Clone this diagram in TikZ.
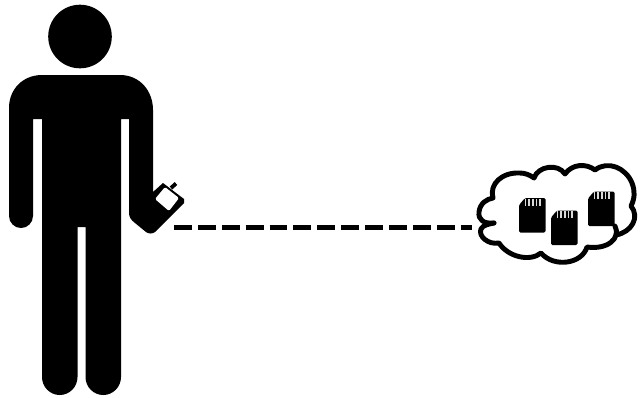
\documentclass[tikz,border=0pt]{standalone}
\usepackage{tikz}
\usetikzlibrary{arrows.meta, positioning, calc}

\begin{document}
\begin{tikzpicture}[
    x=0.02cm, y=-0.02cm,
    figure/.style={fill=black},
    link/.style={line width=2.85pt, dash pattern=on 10.2pt off 3.4pt},
    cloudline/.style={line width=2.8pt, line cap=round, line join=round},
    sdcard/.pic={
        \fill[black, rounded corners=0.8pt] (6,0) -- (26.5,0) -- (26.5,34.5) -- (0,34.5) -- (0,7) -- cycle;
        \foreach \i in {0,...,4}
            \fill[white!85!black] ({5.5+\i*3.7},0.5) rectangle ({7.3+\i*3.7},7.5);
    },
]
    \useasboundingbox (0,0) rectangle (640,397);

    % Person
    \fill[figure] (80,36.5) circle (31.8);
    \fill[figure] (42,75) -- (120,75)
        .. controls (140,75) and (153,91) .. (153,110)
        -- (153,192) -- (163,183) -- (184,199) -- (184,203)
        -- (155,232) .. controls (152,234) and (149,234) .. (146,232)
        -- (135,223) .. controls (131,220) and (129,217) .. (129,213)
        -- (129,119) -- (121,119) -- (121,377)
        arc[start angle=0, end angle=180, x radius=17.75, y radius=18]
        -- (85.5,227) -- (77.5,227) -- (77.5,377)
        arc[start angle=0, end angle=180, x radius=17.75, y radius=18]
        -- (42,119) -- (33,119) -- (33,216)
        arc[start angle=0, end angle=180, radius=12]
        -- (9,108) .. controls (9,89) and (23,75) .. (42,75) -- cycle;

    % Phone
    \fill[white, rounded corners=0.8pt] (165,187) -- (179,198) -- (169,211) -- (155,199) -- cycle;
    \draw[line width=2.2pt] (171,188) -- (176,183.5);

    % Link
    \coordinate (phone) at (174,227);
    \coordinate (cloud) at (472,227);
    \draw[link] (phone) -- (cloud);

    % Cloud
    \draw[cloudline] (494,223)
        .. controls (484,224) and (478,220) .. (479,212)
        .. controls (480,203) and (487,199) .. (493,198)
        .. controls (489,184) and (502,172) .. (520,173)
        .. controls (525,173) and (530,175) .. (534,178)
        .. controls (538,166) and (558,163) .. (565,174)
        .. controls (572,164) and (586,163) .. (595,170)
        .. controls (608,160) and (626,168) .. (632,183)
        .. controls (635,191) and (635,198) .. (631,206)
        .. controls (640,217) and (632,232) .. (616,235);
    \draw[cloudline] (615,226)
        .. controls (621,238) and (608,250) .. (587,247)
        .. controls (582,264) and (554,268) .. (541,253)
        .. controls (530,262) and (508,257) .. (499,243)
        .. controls (488,245) and (478,236) .. (481,229)
        .. controls (483,225) and (489,224) .. (494,223);

    % Cards
    \pic at (519,198) {sdcard};
    \pic at (551,210.5) {sdcard};
    \pic at (588,191.5) {sdcard};
\end{tikzpicture}
\end{document}
